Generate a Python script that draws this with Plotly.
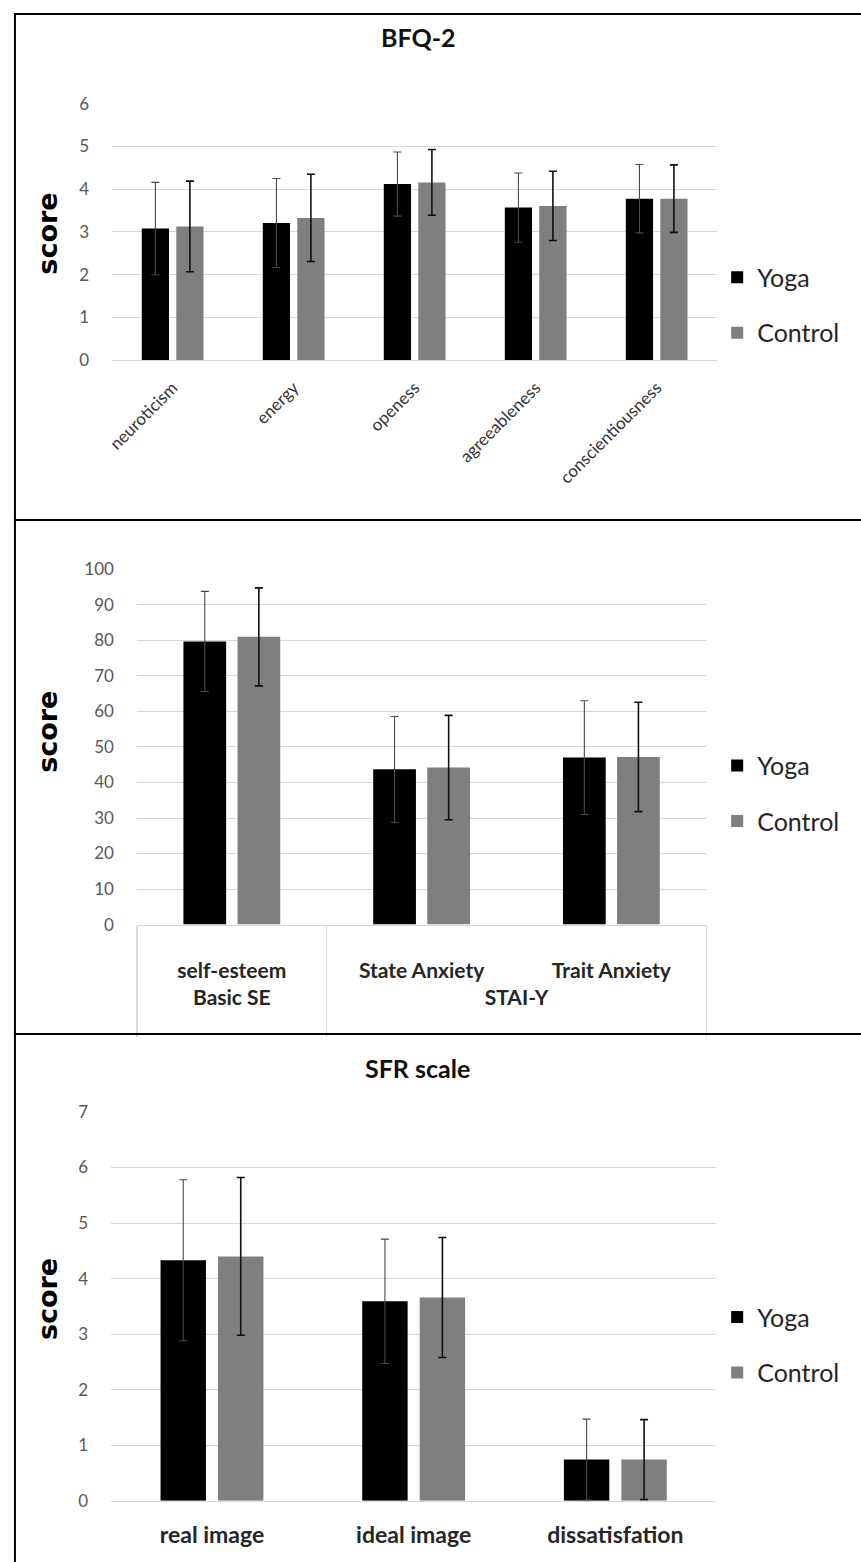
import plotly.graph_objects as go

W, H = 861, 1562

# ---------------- data ----------------
bfq_categories = ["neuroticism", "energy", "openess", "agreeableness", "conscientiousness"]
bfq_yoga = [3.08, 3.21, 4.12, 3.57, 3.78]
bfq_yoga_sd = [1.08, 1.04, 0.75, 0.81, 0.80]
bfq_control = [3.13, 3.33, 4.16, 3.61, 3.78]
bfq_control_sd = [1.06, 1.02, 0.77, 0.81, 0.79]

se_groups = ["Basic SE", "STAI-Y", "STAI-Y"]
se_categories = ["self-esteem", "State Anxiety", "Trait Anxiety"]
se_yoga = [79.7, 43.7, 47.0]
se_yoga_sd = [14.1, 14.9, 16.0]
se_control = [81.0, 44.2, 47.2]
se_control_sd = [13.8, 14.7, 15.4]

sfr_categories = ["real image", "ideal image", "dissatisfation"]
sfr_yoga = [4.33, 3.59, 0.74]
sfr_yoga_sd = [1.45, 1.12, 0.73]
sfr_control = [4.40, 3.66, 0.74]
sfr_control_sd = [1.42, 1.08, 0.72]

series_names = ["Yoga", "Control"]
bfq_ticks = [0, 1, 2, 3, 4, 5, 6]
se_ticks = list(range(0, 101, 10))
sfr_ticks = [0, 1, 2, 3, 4, 5, 6, 7]

# ---------------- styling ----------------
YOGA_C = "#000000"
CTRL_C = "#7f7f7f"
GRID_C = "#d9d9d9"
TICK_C = "#595959"
FONT = "Lato"


def xd(px):
    return px / W


def yd(px):
    return 1 - px / H


# multi-level labels for the middle panel (blank lines give the table-like spacing)
se_x = [[g + "<br> " for g in se_groups], [" <br>" + c for c in se_categories]]

fig = go.Figure()

panels = [
    dict(ax="", x=bfq_categories, y1=bfq_yoga, e1=bfq_yoga_sd, y2=bfq_control, e2=bfq_control_sd,
         leg="legend"),
    dict(ax="2", x=se_x, y1=se_yoga, e1=se_yoga_sd, y2=se_control, e2=se_control_sd,
         leg="legend2"),
    dict(ax="3", x=sfr_categories, y1=sfr_yoga, e1=sfr_yoga_sd, y2=sfr_control, e2=sfr_control_sd,
         leg="legend3"),
]

for p in panels:
    for name, yv, ev, col, ecol, eth in [
        (series_names[0], p["y1"], p["e1"], YOGA_C, "#4a4a4a", 1.1),
        (series_names[1], p["y2"], p["e2"], CTRL_C, "#111111", 1.6),
    ]:
        fig.add_trace(go.Bar(
            x=p["x"], y=yv, name=name,
            marker=dict(color=col, line=dict(width=0)),
            error_y=dict(type="data", array=ev, visible=True, color=ecol,
                         thickness=eth, width=4),
            xaxis="x" + p["ax"], yaxis="y" + p["ax"],
            legend=p["leg"], legendgroup=name + p["ax"],
        ))

tickfont = dict(family=FONT, size=17, color=TICK_C)
common_y = dict(showgrid=True, gridcolor=GRID_C, gridwidth=1, zeroline=False,
                showline=False, ticks="", tickfont=tickfont, fixedrange=True,
                ticklabelstandoff=22)

fig.update_layout(
    width=W, height=H,
    margin=dict(l=0, r=0, t=0, b=0),
    paper_bgcolor="white", plot_bgcolor="white",
    bargap=0.43, bargroupgap=0.21, barmode="group",
    showlegend=True,
    xaxis=dict(domain=[xd(106), xd(716)], anchor="y", type="category",
               tickangle=-45, ticks="", showline=True, linecolor=GRID_C,
               ticklabelstandoff=10,
               tickfont=dict(family=FONT, size=17, color="#333333"),
               range=[-0.5, 4.5]),
    yaxis=dict(domain=[yd(354), yd(94)], anchor="x", range=[0, 6],
               tickvals=bfq_ticks, **common_y),
    xaxis2=dict(domain=[xd(131), xd(705)], anchor="y2", type="multicategory",
                showdividers=True, dividercolor=GRID_C, dividerwidth=1.5,
                ticks="", showline=True, linecolor=GRID_C,
                tickfont=dict(family=FONT, size=21, color="#262626", weight="bold")),
    yaxis2=dict(domain=[yd(926), yd(566)], anchor="x2", range=[0, 100],
                tickvals=se_ticks, **common_y),
    xaxis3=dict(domain=[xd(105), xd(715)], anchor="y3", type="category",
                ticks="", showline=True, linecolor=GRID_C, ticklabelstandoff=14,
                tickfont=dict(family=FONT, size=23, color="#262626", weight="bold"),
                range=[-0.5, 2.5]),
    yaxis3=dict(domain=[yd(1510), yd(1116)], anchor="x3", range=[0, 7],
                tickvals=sfr_ticks, **common_y),
)

legend_style = dict(font=dict(family=FONT, size=25, color="#262626"),
                    bgcolor="rgba(0,0,0,0)", traceorder="grouped",
                    tracegroupgap=20, xref="paper", yref="paper",
                    xanchor="left", yanchor="middle", itemclick=False)
fig.update_layout(
    legend=dict(x=xd(716), y=yd(298), **legend_style),
    legend2=dict(x=xd(716), y=yd(793), **legend_style),
    legend3=dict(x=xd(716), y=yd(1352), **legend_style),
)

# panel borders
for y0, y1 in [(3, 516), (516, 1037), (1037, 1580)]:
    fig.add_shape(type="rect", xref="paper", yref="paper",
                  x0=xd(8), x1=xd(875), y0=yd(y1), y1=yd(y0),
                  line=dict(color="black", width=2), fillcolor="rgba(0,0,0,0)",
                  layer="above")

# titles
for text, ypx in [("BFQ-2", 26), ("SFR scale", 1071)]:
    fig.add_annotation(text=text, x=xd(414), y=yd(ypx), xref="paper", yref="paper",
                       showarrow=False, xanchor="center", yanchor="middle",
                       font=dict(family=FONT, size=25, color="#111111", weight="bold"))

# y-axis titles
for ypx in [226, 731, 1306]:
    fig.add_annotation(text="score", x=xd(41), y=yd(ypx), xref="paper", yref="paper",
                       showarrow=False, textangle=-90, xanchor="center", yanchor="middle",
                       font=dict(family="DejaVu Sans", size=27, color="black", weight="bold"))

fig.write_html("out.html", config={"displayModeBar": False, "staticPlot": True},
               post_script="document.body.style.margin='0px';document.body.style.overflow='hidden';")
